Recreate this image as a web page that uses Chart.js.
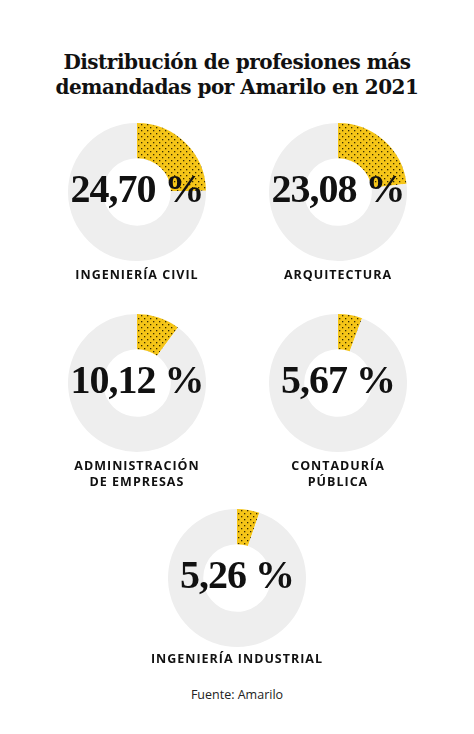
<!DOCTYPE html>
<html><head><meta charset="utf-8">
<script src="https://cdn.jsdelivr.net/npm/chart.js@4/dist/chart.umd.min.js"></script>
<style>
body{margin:0;width:474px;height:734px;background:#fff;position:relative;font-family:"DejaVu Sans",sans-serif;overflow:hidden}
h1{position:absolute;top:50px;left:0;width:474px;margin:0;text-align:center;font-family:"DejaVu Serif",serif;font-size:20px;line-height:25px;font-weight:bold;color:#111;letter-spacing:-0.5px}
.box{position:absolute;width:150px;height:150px}
.val{position:absolute;width:220px;text-align:center;font-family:"Liberation Serif",serif;font-weight:bold;font-size:40px;color:#111;letter-spacing:-1px}
.lab{position:absolute;width:220px;text-align:center;font-family:"Open Sans",sans-serif;font-weight:bold;font-size:12.5px;letter-spacing:1px;line-height:16px;color:#111}
.src{position:absolute;top:686px;width:474px;text-align:center;font-family:"Open Sans",sans-serif;font-size:12.5px;color:#222}
</style></head><body>
<h1>Distribución de profesiones más<br>demandadas por Amarilo en 2021</h1>
<div class="src">Fuente: Amarilo</div>
<script>
const categories=["INGENIERÍA CIVIL","ARQUITECTURA","ADMINISTRACIÓN<br>DE EMPRESAS","CONTADURÍA<br>PÚBLICA","INGENIERÍA INDUSTRIAL"];
const percents=[24.70,23.08,10.12,5.67,5.26];
const centers=[[137,192],[338,192],[137,383],[338,383],[237,578]];

const pc=document.createElement('canvas');pc.width=6;pc.height=6;
const g=pc.getContext('2d');g.fillStyle='#f5c518';g.fillRect(0,0,6,6);
g.fillStyle='#3a2e00';g.fillRect(1,1,1.3,1.3);g.fillRect(4,4,1.3,1.3);
const pat=g.createPattern(pc,'repeat');

percents.forEach((p,i)=>{
  const [cx,cy]=centers[i];
  const d=document.createElement('div');d.className='box';
  d.style.left=(cx-75)+'px';d.style.top=(cy-75)+'px';
  const c=document.createElement('canvas');d.appendChild(c);document.body.appendChild(d);
  new Chart(c,{type:'doughnut',data:{labels:['v','r'],datasets:[{data:[p,100-p],backgroundColor:[pat,'#eeeeee'],borderWidth:0}]},
    options:{responsive:true,maintainAspectRatio:false,animation:false,cutout:'49%',radius:69,
      plugins:{legend:{display:false},tooltip:{enabled:false}}}});
  const v=document.createElement('div');v.className='val';
  v.style.left=(cx-110)+'px';v.style.top=(cy-27)+'px';
  v.textContent=p.toFixed(2).replace('.',',')+' %';document.body.appendChild(v);
  const l=document.createElement('div');l.className='lab';
  l.style.left=(cx-110)+'px';l.style.top=(cy+(i<4?75:73)+(i>=2&&i<4?0:0))+'px';
  l.innerHTML=categories[i];document.body.appendChild(l);
});
</script>
</body></html>
